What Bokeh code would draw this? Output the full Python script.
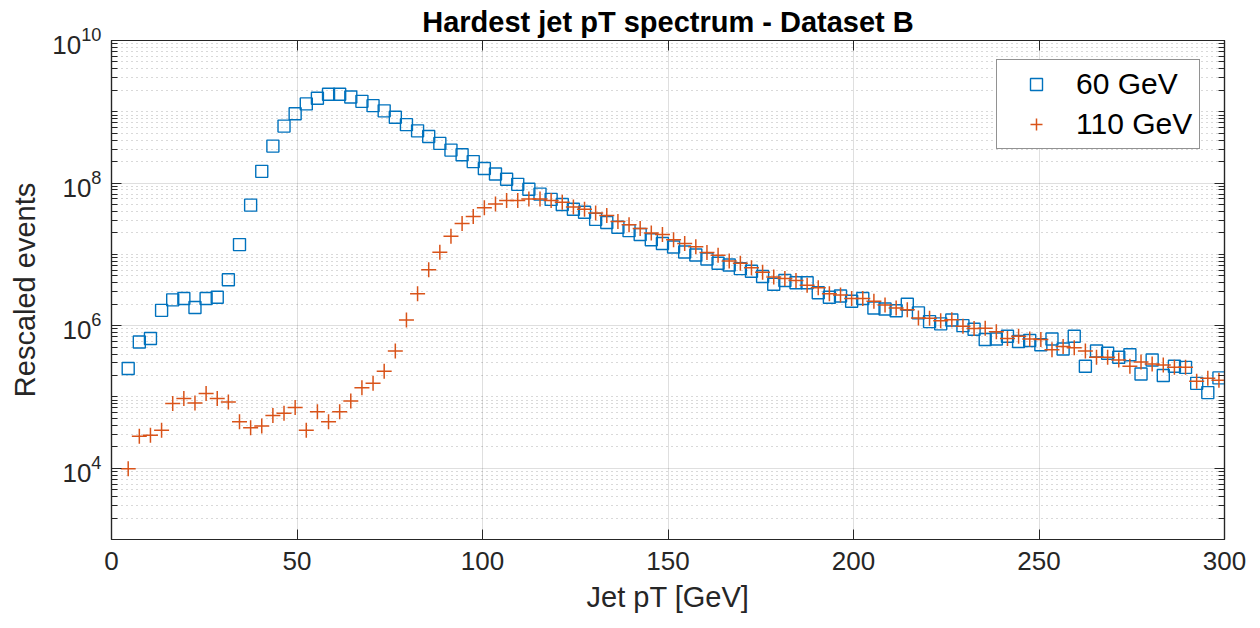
from bokeh.plotting import figure
from bokeh.models import (FixedTicker, LogTickFormatter, LogAxis, LinearAxis, Legend,
                          LegendItem, ColumnDataSource, Range1d)
from bokeh.embed import file_html
from bokeh.resources import INLINE

# ---------------- data ----------------
pt_bins = [4.5, 7.5, 10.5, 13.5, 16.5, 19.5, 22.5, 25.5, 28.5, 31.5,
           34.5, 37.5, 40.5, 43.5, 46.5, 49.5, 52.5, 55.5, 58.5, 61.5,
           64.5, 67.5, 70.5, 73.5, 76.5, 79.5, 82.5, 85.5, 88.5, 91.5,
           94.5, 97.5, 100.5, 103.5, 106.5, 109.5, 112.5, 115.5, 118.5, 121.5,
           124.5, 127.5, 130.5, 133.5, 136.5, 139.5, 142.5, 145.5, 148.5, 151.5,
           154.5, 157.5, 160.5, 163.5, 166.5, 169.5, 172.5, 175.5, 178.5, 181.5,
           184.5, 187.5, 190.5, 193.5, 196.5, 199.5, 202.5, 205.5, 208.5, 211.5,
           214.5, 217.5, 220.5, 223.5, 226.5, 229.5, 232.5, 235.5, 238.5, 241.5,
           244.5, 247.5, 250.5, 253.5, 256.5, 259.5, 262.5, 265.5, 268.5, 271.5,
           274.5, 277.5, 280.5, 283.5, 286.5, 289.5, 292.5, 295.5, 298.5]

events_60 = [2.5e5, 5.9e5, 6.6e5, 1.64e6, 2.3e6, 2.4e6, 1.8e6, 2.4e6, 2.5e6, 4.4e6,
             1.37e7, 4.9e7, 1.46e8, 3.3e8, 6.3e8, 9.4e8, 1.29e9, 1.55e9, 1.76e9, 1.76e9,
             1.61e9, 1.40e9, 1.22e9, 1.03e9, 8.4e8, 6.6e8, 5.4e8, 4.5e8, 3.6e8, 2.9e8,
             2.5e8, 2.0e8, 1.6e8, 1.34e8, 1.13e8, 9.6e7, 8.2e7, 7.0e7, 5.9e7, 5.0e7,
             4.3e7, 3.9e7, 3.1e7, 2.8e7, 2.4e7, 2.15e7, 1.9e7, 1.6e7, 1.42e7, 1.27e7,
             1.08e7, 9.8e6, 8.6e6, 7.5e6, 7.1e6, 6.3e6, 5.8e6, 4.9e6, 3.8e6, 4.3e6,
             4.0e6, 4.0e6, 2.9e6, 2.5e6, 2.6e6, 2.2e6, 2.4e6, 1.77e6, 1.71e6, 1.62e6,
             2.0e6, 1.51e6, 1.14e6, 1.06e6, 1.2e6, 1.0e6, 8.9e5, 6.4e5, 6.5e5, 7.1e5,
             6.0e5, 6.2e5, 5.4e5, 6.5e5, 4.7e5, 7.1e5, 2.7e5, 4.4e5, 4.1e5, 3.6e5,
             3.9e5, 2.1e5, 3.3e5, 2.0e5, 2.7e5, 2.6e5, 1.55e5, 1.15e5, 1.85e5]

events_110 = [9.8e3, 2.8e4, 2.9e4, 3.4e4, 8.1e4, 9.5e4, 8.2e4, 1.12e5, 9.5e4, 8.5e4,
              4.5e4, 3.7e4, 3.9e4, 5.5e4, 5.9e4, 7.1e4, 3.4e4, 6.2e4, 4.5e4, 6.2e4,
              8.8e4, 1.34e5, 1.55e5, 2.3e5, 4.4e5, 1.2e6, 2.8e6, 6.1e6, 1.07e7, 1.8e7,
              2.7e7, 3.4e7, 4.5e7, 5.1e7, 5.7e7, 5.7e7, 6.0e7, 6.0e7, 5.7e7, 5.4e7,
              4.6e7, 4.3e7, 3.8e7, 3.5e7, 2.9e7, 2.6e7, 2.3e7, 2.0e7, 1.9e7, 1.6e7,
              1.42e7, 1.28e7, 1.06e7, 9.7e6, 8.1e6, 7.5e6, 6.5e6, 5.6e6, 4.8e6, 4.6e6,
              4.3e6, 3.7e6, 3.4e6, 2.8e6, 2.7e6, 2.4e6, 2.4e6, 2.2e6, 1.95e6, 1.77e6,
              1.67e6, 1.28e6, 1.27e6, 1.17e6, 1.21e6, 9.8e5, 9.1e5, 9.2e5, 8.2e5, 6.6e5,
              7.1e5, 6.5e5, 6.4e5, 4.6e5, 5.1e5, 4.9e5, 4.4e5, 3.6e5, 3.6e5, 3.3e5,
              2.7e5, 3.1e5, 2.9e5, 2.8e5, 2.6e5, 2.6e5, 1.66e5, 1.83e5, 1.72e5]

series_labels = ["60 GeV", "110 GeV"]
x_ticks = [0, 50, 100, 150, 200, 250, 300]
y_major_ticks = [1e4, 1e6, 1e8, 1e10]
y_minor_ticks = [k * 10.0 ** n for n in range(3, 10) for k in range(1, 10)
                 if k * 10.0 ** n not in y_major_ticks]

# ---------------- styling ----------------
FONT = "Liberation Sans"
AX = "#262626"
BLUE = "#0072BD"
ORANGE = "#D95319"

src = ColumnDataSource(dict(pt=pt_bins, e60=events_60, e110=events_110))

p = figure(width=1260, height=628, y_axis_type="log",
           x_range=Range1d(0, 300), y_range=Range1d(1e3, 1e10),
           output_backend="svg", toolbar_location=None,
           min_border_left=111, min_border_right=36,
           min_border_top=40, min_border_bottom=89,
           title="Hardest jet pT spectrum - Dataset B")

p.title.text_font = FONT
p.title.text_font_size = "29px"
p.title.text_font_style = "bold"
p.title.text_color = "black"
p.title.align = "center"
p.title.standoff = 6

p.outline_line_color = AX
p.outline_line_width = 1.2
p.background_fill_color = "white"
p.border_fill_color = "white"

xticker = FixedTicker(ticks=x_ticks, minor_ticks=[])
yticker = FixedTicker(ticks=y_major_ticks, minor_ticks=y_minor_ticks)

# main axes
xa = p.xaxis[0]
xa.ticker = xticker
ya = p.yaxis[0]
ya.ticker = yticker
ya.formatter = LogTickFormatter()

for ax in (xa, ya):
    ax.axis_line_color = AX
    ax.axis_line_width = 1.2
    ax.major_tick_line_color = AX
    ax.minor_tick_line_color = AX
    ax.major_tick_in = 10
    ax.major_tick_out = 0
    ax.minor_tick_in = 6
    ax.minor_tick_out = 0
    ax.major_label_text_font = FONT
    ax.major_label_text_font_size = "26px"
    ax.major_label_text_color = AX
    ax.axis_label_text_font = FONT
    ax.axis_label_text_font_size = "29px"
    ax.axis_label_text_font_style = "normal"
    ax.axis_label_text_color = AX
xa.minor_tick_line_color = None
xa.axis_label = "Jet pT [GeV]"
xa.major_label_standoff = 12
xa.axis_label_standoff = 8
ya.axis_label = "Rescaled events"
ya.major_label_standoff = 10
ya.axis_label_standoff = 8

# mirrored axes (box with ticks), labels not drawn
ra = LogAxis(ticker=yticker, formatter=LogTickFormatter())
ta = LinearAxis(ticker=xticker)
for ax in (ra, ta):
    ax.axis_line_color = AX
    ax.axis_line_width = 1.2
    ax.major_tick_line_color = AX
    ax.minor_tick_line_color = AX
    ax.major_tick_in = 10
    ax.major_tick_out = 0
    ax.minor_tick_in = 6
    ax.minor_tick_out = 0
    ax.major_label_text_font_size = "1px"
    ax.major_label_text_color = None
    ax.major_label_standoff = 0
ta.minor_tick_line_color = None
p.add_layout(ra, "right")
p.add_layout(ta, "above")

# grids
p.xgrid.ticker = xticker
p.ygrid.ticker = yticker
for g in (p.xgrid, p.ygrid):
    g.grid_line_color = AX
    g.grid_line_alpha = 0.15
    g.grid_line_width = 1
p.ygrid.minor_grid_line_color = AX
p.ygrid.minor_grid_line_alpha = 0.35
p.ygrid.minor_grid_line_dash = "1 4"
p.ygrid.minor_grid_line_width = 1

# data
r1 = p.scatter("pt", "e60", source=src, marker="square", size=12,
               fill_color=None, line_color=BLUE, line_width=1.4)
r2 = p.scatter("pt", "e110", source=src, marker="cross", size=15,
               line_color=ORANGE, line_width=1.5)

legend = Legend(items=[LegendItem(label=series_labels[0], renderers=[r1]),
                       LegendItem(label=series_labels[1], renderers=[r2])],
                location=(885, 390))
legend.border_line_color = AX
legend.border_line_width = 1.2
legend.background_fill_color = "white"
legend.background_fill_alpha = 1
legend.label_text_font = FONT
legend.label_text_font_size = "30px"
legend.label_text_color = "black"
legend.glyph_width = 64
legend.glyph_height = 30
legend.label_height = 30
legend.label_standoff = 8
legend.spacing = 6
legend.padding = 7
legend.margin = 0
p.add_layout(legend)

open("out.html", "w").write(file_html(p, INLINE))
